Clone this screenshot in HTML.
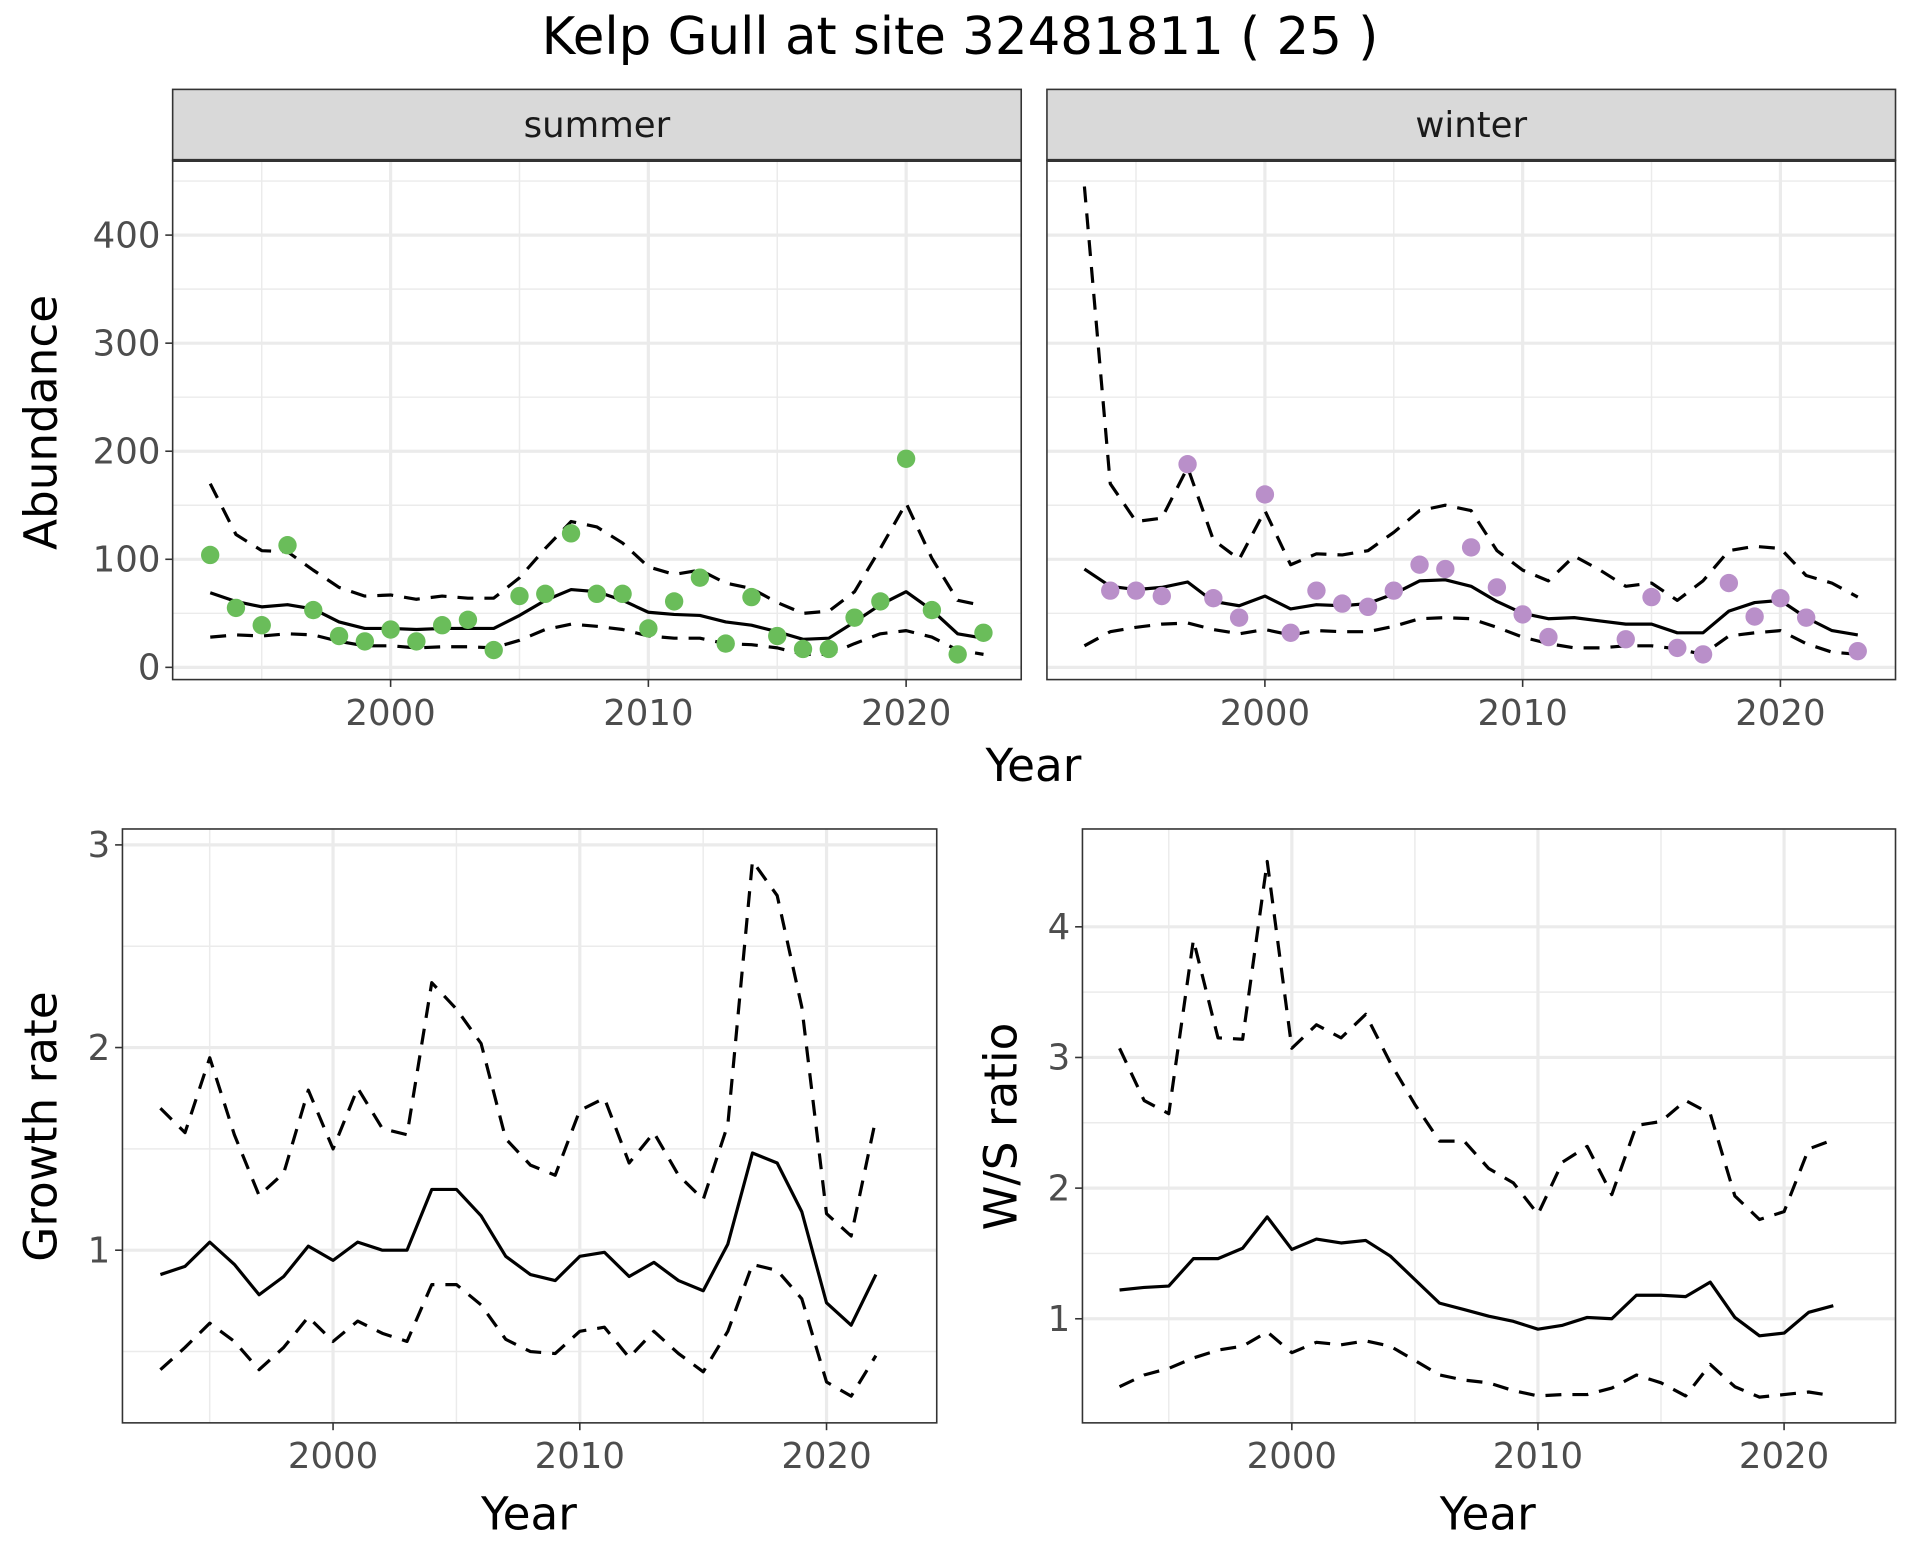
<!DOCTYPE html>
<html><head><meta charset="utf-8"><style>
html,body{margin:0;padding:0;background:#fff;}
svg{display:block;font-family:"DejaVu Sans","Liberation Sans",sans-serif;}
</style></head><body>
<svg id="c" width="1920" height="1560" viewBox="0 0 1568 1274" preserveAspectRatio="none" xmlns="http://www.w3.org/2000/svg">
<text x="784" y="44" font-size="42" text-anchor="middle" fill="#000">Kelp Gull at site 32481811 ( 25 )</text>
</svg>
<script>
const yearsA = [1993,1994,1995,1996,1997,1998,1999,2000,2001,2002,2003,2004,2005,2006,2007,2008,2009,2010,2011,2012,2013,2014,2015,2016,2017,2018,2019,2020,2021,2022,2023];
const summerObs = [104,55,39,113,53,29,24,35,24,39,44,16,66,68,124,68,68,36,61,83,22,65,29,17,17,46,61,193,53,12,32];
const summerMean = [69,61,56,58,54,42,36,36,35,36,36,36,48,62,72,70,62,51,49,48,42,39,33,26,27,42,58,70,53,31,27];
const summerUpper = [170,123,108,107,90,74,66,67,63,66,64,64,83,110,135,130,115,93,86,90,78,73,60,50,52,70,110,152,101,62,57];
const summerLower = [28,30,29,31,30,24,20,20,18,19,19,18,25,35,40,38,35,29,27,27,22,21,18,12,12,22,31,34,28,16,12];
const winterObs = [null,71,71,66,188,64,46,160,32,71,59,56,71,95,91,111,74,49,28,null,null,26,65,18,12,78,47,64,46,null,15];
const winterMean = [91,75,72,74,79,61,57,66,54,58,57,59,68,80,81,75,61,50,45,46,43,40,40,32,32,52,60,62,46,34,30];
const winterUpper = [445,170,135,138,185,118,100,145,95,105,104,108,125,145,150,145,108,90,80,103,90,75,78,62,80,108,112,110,85,78,65];
const winterLower = [20,33,37,40,41,35,31,35,30,34,33,33,38,45,46,45,37,28,22,18,18,20,20,17,12,29,32,34,22,14,12];
const yearsB = [1993,1994,1995,1996,1997,1998,1999,2000,2001,2002,2003,2004,2005,2006,2007,2008,2009,2010,2011,2012,2013,2014,2015,2016,2017,2018,2019,2020,2021,2022];
const growthMean = [0.88,0.92,1.04,0.93,0.78,0.87,1.02,0.95,1.04,1.00,1.00,1.30,1.30,1.17,0.97,0.88,0.85,0.97,0.99,0.87,0.94,0.85,0.80,1.03,1.48,1.43,1.19,0.74,0.63,0.88];
const growthUpper = [1.70,1.58,1.95,1.57,1.27,1.38,1.79,1.50,1.80,1.60,1.57,2.32,2.19,2.02,1.55,1.42,1.37,1.69,1.75,1.43,1.58,1.37,1.25,1.62,2.92,2.75,2.20,1.18,1.07,1.65];
const growthLower = [0.41,0.52,0.64,0.55,0.41,0.52,0.67,0.55,0.65,0.59,0.55,0.83,0.83,0.73,0.56,0.50,0.49,0.60,0.62,0.47,0.60,0.49,0.40,0.60,0.93,0.90,0.76,0.35,0.28,0.48];
const ratioMean = [1.22,1.24,1.25,1.46,1.46,1.54,1.78,1.53,1.61,1.58,1.60,1.48,1.30,1.12,1.07,1.02,0.98,0.92,0.95,1.01,1.00,1.18,1.18,1.17,1.28,1.01,0.87,0.89,1.05,1.10];
const ratioUpper = [3.07,2.67,2.57,3.90,3.15,3.14,4.50,3.07,3.25,3.15,3.33,2.96,2.64,2.36,2.36,2.15,2.04,1.80,2.20,2.32,1.95,2.48,2.51,2.67,2.57,1.94,1.76,1.82,2.30,2.37];
const ratioLower = [0.48,0.57,0.62,0.70,0.76,0.79,0.90,0.74,0.82,0.80,0.83,0.79,0.68,0.57,0.53,0.51,0.45,0.41,0.42,0.42,0.47,0.57,0.51,0.41,0.65,0.48,0.40,0.42,0.44,0.41];
const xTicks = [2000,2010,2020];
const xMinor = [1995,2005,2015];
const abTicks = [0,100,200,300,400];
const abMinor = [50,150,250,350,450];
const grTicks = [1,2,3];
const grMinor = [0.5,1.5,2.5];
const raTicks = [1,2,3,4];
const raMinor = [1.5,2.5,3.5];

const svg = document.getElementById('c');
const NS = 'http://www.w3.org/2000/svg';
function mk(tag, attrs, parent){
  const e = document.createElementNS(NS, tag);
  for (const k in attrs) e.setAttribute(k, attrs[k]);
  (parent||svg).appendChild(e);
  return e;
}
function panel(o){
  const g = mk('g', {});
  
  
  const sx = v => o.x0 + (v - o.xv0) * o.xs;
  const sy = v => o.y0 - (v - o.yv0) * o.ys;
  mk('rect', {x:o.L, y:o.T, width:o.R-o.L, height:o.B-o.T, fill:'#fff'}, g);
  o.yMinor.forEach(v => { const y = sy(v); if (y>o.T && y<o.B) mk('line',{x1:o.L,x2:o.R,y1:y,y2:y,stroke:'#ebebeb','stroke-width':1.2},g); });
  xMinor.forEach(v => { const x = sx(v); mk('line',{x1:x,x2:x,y1:o.T,y2:o.B,stroke:'#ebebeb','stroke-width':1.2},g); });
  o.yTicks.forEach(v => { const y = sy(v); mk('line',{x1:o.L,x2:o.R,y1:y,y2:y,stroke:'#ebebeb','stroke-width':2.6},g); });
  xTicks.forEach(v => { const x = sx(v); mk('line',{x1:x,x2:x,y1:o.T,y2:o.B,stroke:'#ebebeb','stroke-width':2.6},g); });
  const path = (arr, dash) => {
    let d = ''; let pen = false;
    arr.forEach((v,i) => { if (v==null){pen=false;return;} d += (pen?'L':'M') + sx(o.years[i]).toFixed(1) + ',' + sy(v).toFixed(1); pen = true; });
    const p = mk('path', {d:d, fill:'none', stroke:'#000', 'stroke-width':2.6, 'stroke-dasharray': dash?'13,9':'none', 'stroke-linejoin':'round'}, g);
    return p;
  };
  const pu = path(o.upper, true);
  
  
  const pl = path(o.lower, true);
  
  
  const pm = path(o.mean, false);
  
  
  if (o.obs) o.obs.forEach((v,i) => {
    if (v==null) return;
    const c = mk('circle', {cx:sx(o.years[i]), cy:sy(v), r:7.5, fill:o.color}, g);
    
    
  });
  mk('rect', {x:o.L, y:o.T, width:o.R-o.L, height:o.B-o.T, fill:'none', stroke:'#333', 'stroke-width':1.3}, g);
  if (o.showY) o.yTicks.forEach(v => {
    const y = sy(v);
    mk('line',{x1:o.L-6,x2:o.L,y1:y,y2:y,stroke:'#333','stroke-width':1.3},g);
    const t = mk('text',{x:o.L-10,y:y+10,'font-size':29,'text-anchor':'end',fill:'#4d4d4d'},g);
    t.textContent = v;
    
    
  });
  xTicks.forEach(v => {
    const x = sx(v);
    mk('line',{x1:x,x2:x,y1:o.B,y2:o.B+6,stroke:'#333','stroke-width':1.3},g);
    const t = mk('text',{x:x,y:o.B+37,'font-size':29,'text-anchor':'middle',fill:'#4d4d4d'},g);
    t.textContent = v;
    
    
  });
  if (o.strip){
    mk('rect',{x:o.L,y:o.T-58,width:o.R-o.L,height:58,fill:'#d9d9d9',stroke:'#333','stroke-width':1.3},g);
    mk('line',{x1:o.L,x2:o.R,y1:o.T,y2:o.T,stroke:'#333','stroke-width':2.6},g);
    const t = mk('text',{x:(o.L+o.R)/2,y:o.T-19,'font-size':29,'text-anchor':'middle',fill:'#1a1a1a'},g);
    t.textContent = o.strip;
    
    
  }
}
panel({name:'summer-panel', L:141,R:834,T:131,B:555, x0:319,xv0:2000,xs:21.05, y0:545,yv0:0,ys:0.8825, years:yearsA, obs:summerObs, mean:summerMean, upper:summerUpper, lower:summerLower, color:'#6abd5a', yTicks:abTicks, yMinor:abMinor, showY:true, strip:'summer'});
panel({name:'winter-panel', L:855,R:1548,T:131,B:555, x0:1033,xv0:2000,xs:21.05, y0:545,yv0:0,ys:0.8825, years:yearsA, obs:winterObs, mean:winterMean, upper:winterUpper, lower:winterLower, color:'#b98fc9', yTicks:abTicks, yMinor:abMinor, showY:false, strip:'winter'});
panel({name:'growth-rate-panel', L:100,R:765,T:677,B:1162, x0:272,xv0:2000,xs:20.15, y0:1021,yv0:1,ys:165.5, years:yearsB, mean:growthMean, upper:growthUpper, lower:growthLower, yTicks:grTicks, yMinor:grMinor, showY:true});
panel({name:'ws-ratio-panel', L:884,R:1548,T:677,B:1162, x0:1055,xv0:2000,xs:20.1, y0:1077,yv0:1,ys:106.7, years:yearsB, mean:ratioMean, upper:ratioUpper, lower:ratioLower, yTicks:raTicks, yMinor:raMinor, showY:true});
function label(txt, x, y, rot, name){
  const t = mk('text',{x:x,y:y,'font-size':37,'text-anchor':'middle',fill:'#000'});
  if (rot) t.setAttribute('transform','rotate(-90 '+x+' '+y+')');
  t.textContent = txt;
  
  
}
label('Year', 844, 638, false, 'top-x-axis-title');
label('Abundance', 46, 345, true, 'abundance-y-axis-title');
label('Year', 432, 1249, false, 'growth-x-axis-title');
label('Growth rate', 46, 920, true, 'growth-y-axis-title');
label('Year', 1215, 1249, false, 'ratio-x-axis-title');
label('W/S ratio', 830, 920, true, 'ratio-y-axis-title');
</script>
</body></html>
